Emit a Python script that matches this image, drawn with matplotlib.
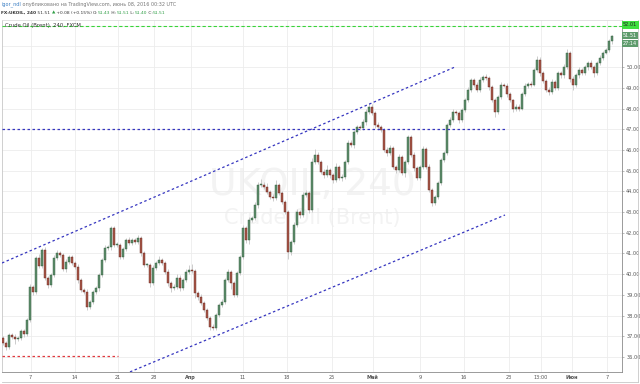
import matplotlib.pyplot as plt
from matplotlib.lines import Line2D

# 4h closes of FX:UKOIL, one bar per slot
closes = [
    36.68, 36.48, 37.06, 36.97, 36.85, 36.92, 37.25, 37.10, 37.79, 39.38,
    39.12, 40.78, 40.40, 41.17, 39.82, 39.48, 39.96, 40.80, 41.02, 40.93,
    40.25, 40.59, 40.83, 40.54, 40.35, 39.72, 39.24, 39.14, 38.42, 38.66,
    39.14, 39.33, 39.96, 40.69, 41.27, 41.31, 42.25, 41.41, 41.41, 40.83,
    41.20, 41.65, 41.51, 41.65, 41.56, 41.75, 41.02, 40.44, 40.44, 39.57,
    40.30, 40.54, 40.69, 40.54, 40.11, 39.57, 39.33, 39.38, 39.82, 39.33,
    39.72, 40.11, 40.20, 40.15, 39.09, 38.90, 38.61, 38.27, 37.88, 37.45,
    37.40, 38.03, 38.51, 38.66, 39.72, 40.11, 39.57, 39.00, 40.06, 40.83,
    42.23, 41.65, 42.62, 42.71, 43.34, 44.31, 44.31, 44.21, 43.97, 43.73,
    43.68, 44.31, 43.92, 43.49, 43.00, 41.07, 41.56, 42.38, 43.00, 42.86,
    43.83, 43.92, 43.10, 45.42, 45.76, 45.42, 44.94, 44.79, 45.03, 44.79,
    44.55, 45.18, 44.65, 44.70, 45.42, 46.34, 46.24, 46.87, 47.11, 47.06,
    47.35, 47.84, 48.08, 47.79, 47.21, 47.11, 46.97, 46.00, 45.86, 46.10,
    45.18, 45.03, 45.66, 44.89, 45.42, 46.63, 45.76, 45.13, 44.65, 45.18,
    46.05, 45.18, 44.07, 43.44, 43.73, 44.41, 45.50, 45.86, 47.21, 47.45,
    47.84, 47.79, 47.45, 47.93, 48.42, 48.90, 49.38, 49.14, 48.90, 49.40,
    49.53, 49.48, 49.04, 48.42, 47.84, 48.56, 49.14, 49.10, 48.70, 48.40,
    48.00, 48.10, 48.00, 48.70, 49.10, 49.20, 49.15, 49.85, 50.35, 49.70,
    49.35, 48.90, 48.80, 49.30, 49.00, 49.70, 49.60, 50.00, 50.70, 49.45,
    49.15, 49.60, 49.85, 49.70, 50.00, 50.20, 50.00, 49.70, 50.20, 50.45,
    50.70, 50.85, 51.25, 51.51,
]
first_open = 36.90

# wick lengths above / below the body, in cents
upper_wick = [
    10, 8, 12, 10, 15, 8, 12, 10, 8, 15, 12, 10, 20, 10, 15, 8, 10, 12, 15, 10,
    8, 12, 10, 8, 10, 12, 8, 10, 15, 10, 8, 12, 10, 8, 12, 10, 8, 10, 15, 10,
    12, 10, 15, 12, 10, 15, 8, 10, 12, 10, 15, 12, 20, 10, 8, 12, 10, 15, 20, 12,
    10, 15, 25, 30, 10, 8, 12, 10, 8, 10, 12, 10, 8, 15, 10, 12, 10, 8, 10, 12,
    15, 10, 12, 10, 15, 12, 30, 15, 20, 10, 12, 25, 10, 12, 10, 8, 10, 12, 15, 10,
    12, 15, 10, 20, 30, 15, 10, 12, 25, 10, 8, 20, 10, 12, 10, 12, 15, 10, 12, 10,
    15, 12, 20, 15, 10, 12, 8, 10, 15, 12, 10, 8, 15, 10, 12, 10, 10, 12, 8, 10,
    15, 10, 12, 10, 8, 10, 12, 8, 10, 12, 15, 10, 8, 12, 10, 15, 12, 10, 15, 12,
    10, 15, 10, 8, 10, 12, 15, 10, 12, 10, 8, 10, 12, 10, 15, 10, 12, 10, 20, 12,
    10, 8, 12, 15, 10, 12, 10, 15, 20, 10, 12, 10, 15, 10, 12, 10, 15, 12, 10, 12,
    10, 8, 10, 5,
]
lower_wick = [
    10, 15, 8, 12, 20, 10, 8, 12, 10, 8, 12, 10, 8, 10, 12, 15, 10, 8, 10, 12,
    10, 12, 8, 10, 12, 15, 10, 12, 15, 10, 8, 10, 12, 10, 8, 10, 12, 10, 8, 12,
    10, 8, 12, 10, 12, 10, 15, 10, 8, 20, 10, 12, 10, 8, 12, 15, 20, 10, 8, 12,
    10, 12, 8, 10, 25, 15, 10, 12, 10, 15, 10, 8, 12, 10, 8, 10, 30, 12, 10, 8,
    10, 12, 20, 8, 10, 12, 10, 8, 12, 10, 15, 10, 8, 12, 10, 35, 12, 10, 8, 15,
    10, 12, 15, 10, 8, 12, 10, 15, 10, 12, 15, 10, 12, 15, 10, 8, 10, 12, 10, 8,
    10, 12, 8, 10, 15, 12, 10, 12, 15, 10, 12, 15, 10, 12, 20, 10, 12, 15, 10, 12,
    10, 12, 10, 15, 12, 10, 8, 10, 12, 8, 10, 12, 15, 10, 8, 10, 12, 10, 8, 12,
    10, 8, 12, 10, 25, 12, 10, 8, 12, 10, 15, 12, 10, 8, 10, 12, 10, 8, 10, 12,
    10, 12, 15, 10, 8, 10, 12, 10, 8, 15, 25, 10, 12, 8, 10, 12, 10, 15, 10, 8,
    10, 8, 10, 11,
]

# time axis labels (bar index where each label sits)
tick_bars = [9.2, 23.9, 38.3, 50.3, 62.6, 80.0, 94.7, 109.7, 123.3, 139.0,
             153.7, 168.7, 179.3, 189.7, 201.3]
tick_labels = ["7", "14", "21", "28", "Апр", "11", "18", "25", "Май", "9",
               "16", "23", "13:00", "Июн", "7"]
month_labels = ["Апр", "Май", "Июн"]

# user drawn lines: (bar0, price0, bar1, price1)
channel_top = (-0.33, 40.54, 150.67, 50.01)
channel_bottom = (42.33, 35.28, 167.33, 42.86)
resistance = (-0.33, 47.0, 167.3, 47.0)
support = (-0.33, 36.06, 38.3, 36.06)
top_level = (-0.33, 52.01, 206.33, 52.01)

opens = [first_open] + closes[:-1]
bars = list(range(len(closes)))
highs = [max(o, c) + w / 100 for o, c, w in zip(opens, closes, upper_wick)]
lows = [min(o, c) - w / 100 for o, c, w in zip(opens, closes, lower_wick)]

fig = plt.figure(figsize=(6.4, 3.84), dpi=100)
fig.patch.set_facecolor("white")
ax = fig.add_axes([2 / 640, 12 / 384, 620 / 640, 352 / 384])
ax.set_xlim(-1 / 3, 206.33)
ax.set_ylim(35.275, 52.28)

# watermark
ax.text(0.5, 0.53, "UKOIL, 240", transform=ax.transAxes, ha="center", va="center",
        fontsize=27, color="#f3f3f3", zorder=0)
ax.text(0.5, 0.4375, "Crude Oil (Brent)", transform=ax.transAxes, ha="center",
        va="center", fontsize=15, color="#f3f3f3", zorder=0)

# grid; 51.00 and 52.00 sit under the price boxes, so no label there
ax.set_yticks(range(36, 53))
ax.set_yticklabels([f"{v:.2f}" if v <= 50 else "" for v in range(36, 53)])
ax.set_xticks(tick_bars)
ax.set_xticklabels(tick_labels)
ax.grid(color="#ececec", lw=0.6, zorder=0)
ax.set_axisbelow(True)

# candles
up_face, up_edge = "#5f8f6c", "#2f5a3c"
dn_face, dn_edge = "#a8574a", "#65271e"
ax.vlines(bars, lows, highs, color="#c4c4c4", lw=0.6, zorder=2)
for b, o, c in zip(bars, opens, closes):
    up = c >= o
    h = abs(c - o)
    if h < 0.03:
        h = 0.03
    ax.bar(b, h, bottom=min(o, c), width=0.55,
           color=up_face if up else dn_face,
           edgecolor=up_edge if up else dn_edge, lw=0.3, zorder=3)

# drawn lines
for ln in (channel_top, channel_bottom, resistance):
    ax.plot([ln[0], ln[2]], [ln[1], ln[3]], color="#3636c0", lw=0.9,
            ls=(0, (2, 2)), zorder=4)
ax.plot([support[0], support[2]], [support[1], support[3]], color="#e0393e",
        lw=0.9, ls=(0, (2, 2)), zorder=4)
ax.plot([top_level[0], top_level[2]], [top_level[1], top_level[3]],
        color="#39d439", lw=0.8, ls=(0, (3, 2)), zorder=4)

# axes styling
ax.yaxis.tick_right()
ax.tick_params(axis="y", labelsize=3.6, colors="#888888", labelcolor="#555555",
               length=1.5, width=0.4, pad=1.5)
ax.tick_params(axis="x", labelsize=3.6, colors="#888888", labelcolor="#555555",
               length=0, pad=2.5)
for lbl in ax.get_xticklabels():
    if lbl.get_text() in month_labels:
        lbl.set_fontweight("bold")
ax.spines["left"].set_color("#c8c8c8")
ax.spines["top"].set_color("#dddddd")
ax.spines["right"].set_color("#8a8a8a")
ax.spines["bottom"].set_color("#8a8a8a")
for s in ax.spines.values():
    s.set_linewidth(0.6)

ax.text(0.005, 0.985, "Crude Oil (Brent), 240, FXCM", transform=ax.transAxes,
        ha="left", va="center", fontsize=3.8, color="#333333", zorder=6)

# outer frame of price/time panels
fig.add_artist(Line2D([638 / 640, 638 / 640], [2 / 384, 364 / 384], color="#c8c8c8", lw=0.6))
fig.add_artist(Line2D([2 / 640, 638 / 640], [2 / 384, 2 / 384], color="#c8c8c8", lw=0.6))

# price axis boxes
fig.text(623 / 640, 1 - 25 / 384, "52.01", fontsize=3.6, color="#222222", va="center",
         bbox=dict(boxstyle="square,pad=0.25", fc="#3fe03f", ec="none"))
fig.text(623 / 640, 1 - 35.5 / 384, "51.51", fontsize=3.6, color="white", va="center",
         bbox=dict(boxstyle="square,pad=0.25", fc="#5e9b6c", ec="none"))
fig.text(623 / 640, 1 - 43.5 / 384, "27:14", fontsize=3.6, color="white", va="center",
         bbox=dict(boxstyle="square,pad=0.25", fc="#5e9b6c", ec="none"))

# header, pieces laid out one after another
renderer = fig.canvas.get_renderer()


def write_line(pieces, y_px, x_px=1.0, size=4.0):
    x = x_px
    for text, color, weight in pieces:
        t = fig.text(x / 640, 1 - y_px / 384, text, color=color, fontsize=size,
                     weight=weight, va="center", family="DejaVu Sans")
        x += t.get_window_extent(renderer).width


dark, green = "#333333", "#2e9e45"
write_line([("igor_ndl", "#3b7fc4", "normal"),
            (" опубликовано на TradingView.com, июнь 08, 2016 00:32 UTC", "#777777", "normal")],
           4.5, size=3.5)
write_line([("FX:UKOIL, 240", dark, "bold"), (" 51.51 ", dark, "normal"),
            ("▲", green, "normal"), (" +0.08 (+0.15%) ", dark, "normal"),
            ("O:", dark, "normal"), ("51.43", green, "normal"),
            (" H:", dark, "normal"), ("51.51", green, "normal"),
            (" L:", dark, "normal"), ("51.40", green, "normal"),
            (" C:", dark, "normal"), ("51.51", green, "normal")],
           12.5, size=3.2)

plt.savefig("out.png", dpi=100)
